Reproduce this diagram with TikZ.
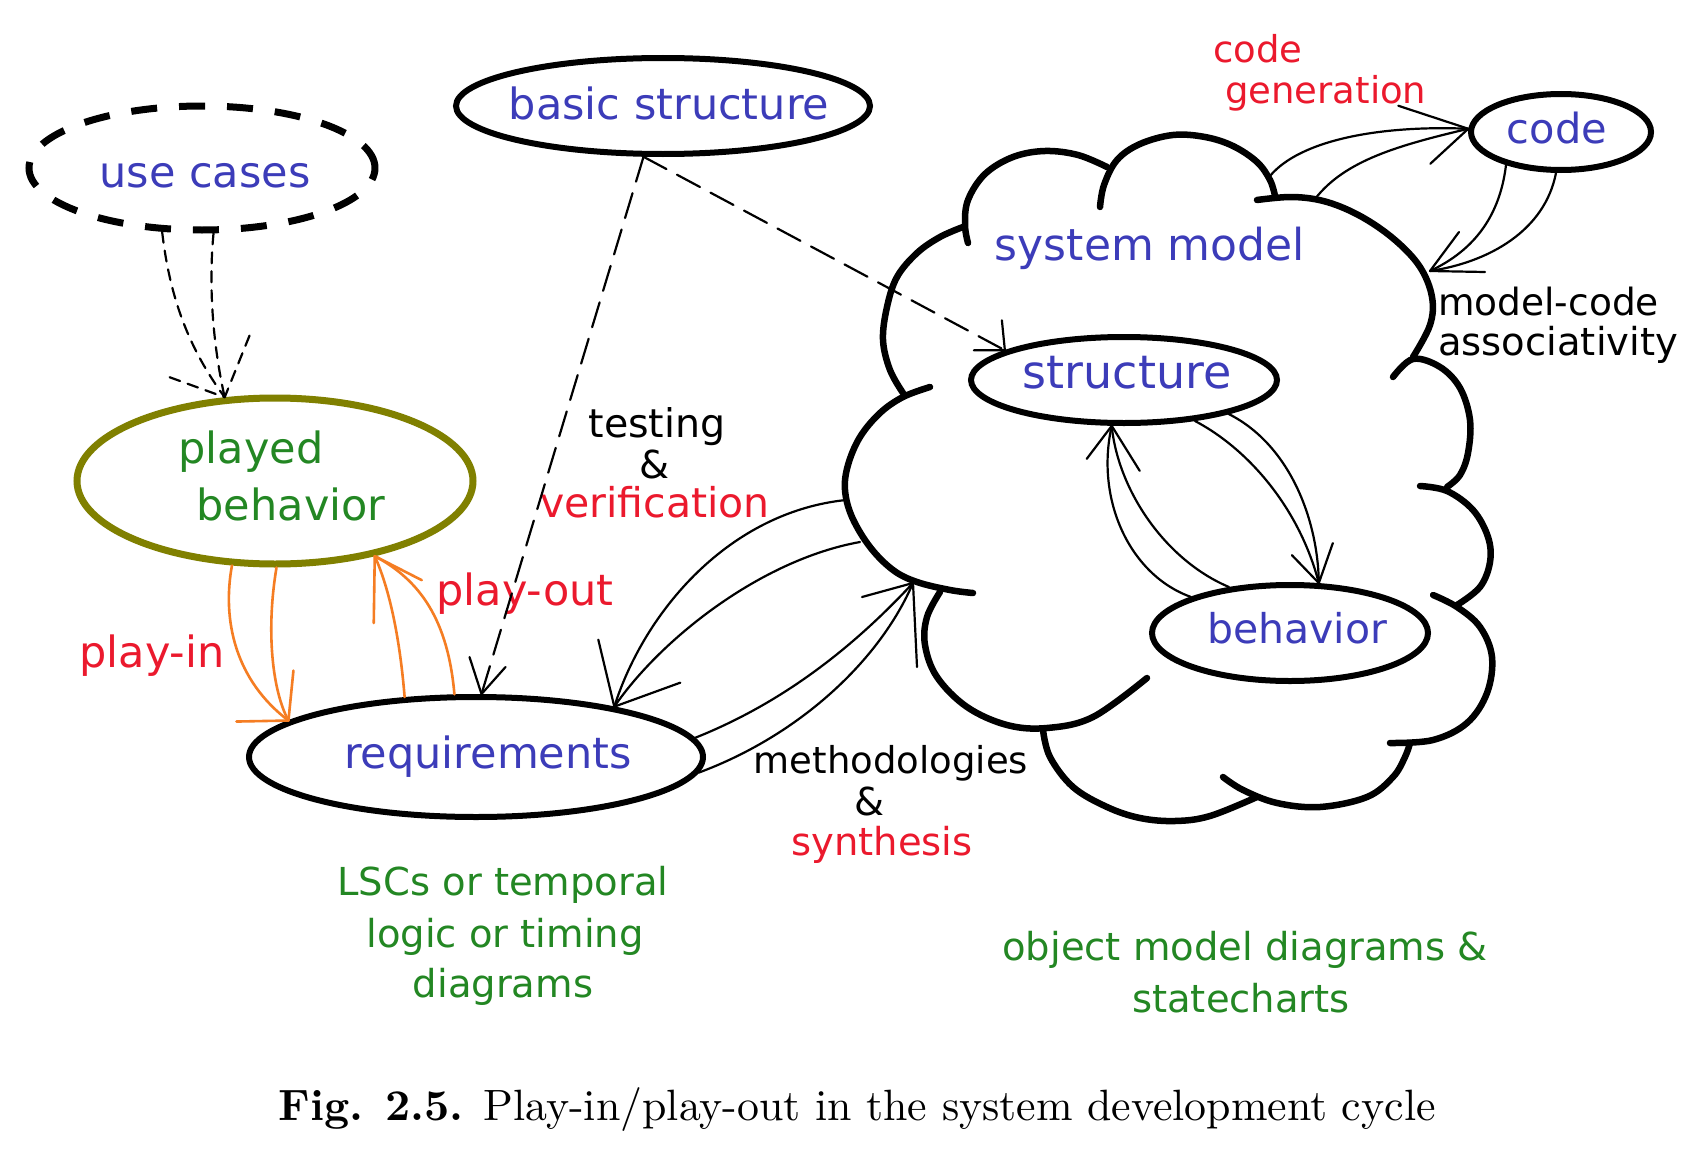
\documentclass[tikz,border=0pt]{standalone}
\usepackage{fontspec}
\usepackage{graphicx}
\usetikzlibrary{shapes.geometric}
\newfontfamily\hand{DejaVu Sans}
\definecolor{tblue}{RGB}{60,60,185}
\definecolor{tgreen}{RGB}{35,135,35}
\definecolor{tred}{RGB}{235,25,45}
\definecolor{olivec}{RGB}{128,128,0}
\definecolor{orangec}{RGB}{245,125,35}
\begin{document}
\begin{tikzpicture}[x=1pt,y=-1pt,
  ell/.style={ellipse,draw,line width=6pt,inner sep=0pt,text height=23pt,text depth=0pt,text=tblue,font=\hand\fontsize{43}{50}\selectfont},
  lbl/.style={anchor=base,inner sep=0pt,font=\hand\fontsize{43}{50}\selectfont},
  slbl/.style={anchor=base,inner sep=0pt,font=\hand\fontsize{38.5}{44}\selectfont},
  cl/.style={line width=6.5pt,line cap=round,line join=round},
  thinl/.style={line width=2.2pt,line cap=round,line join=round},
  sdash/.style={thinl,dash pattern=on 11pt off 8pt},
  ldash/.style={thinl,dash pattern=on 26pt off 12pt},
  org/.style={thinl,draw=orangec,line width=2.6pt}
]
\fill[white] (0,0) rectangle (1700,1156);
\useasboundingbox (0,0) rectangle (1700,1156);

% ---------- cloud (system model) ----------
\draw[cl] plot[smooth,tension=0.6] coordinates {(968,243) (965,225) (968,200) (985,174) (1013,157) (1045,151) (1078,155) (1107,167)};
\draw[cl] plot[smooth,tension=0.6] coordinates {(1100,207) (1104,185) (1117,160) (1140,144) (1173,135) (1205,137) (1233,146) (1257,162) (1270,180) (1275,196)};
\draw[cl] plot[smooth,tension=0.6] coordinates {(1257,200) (1293,197) (1327,202) (1362,217) (1395,240) (1420,267) (1432,297) (1430,325) (1413,357)};
\draw[cl] plot[smooth,tension=0.6] coordinates {(1393,377) (1413,359) (1440,367) (1460,388) (1470,420) (1468,453) (1460,475) (1447,487)};
\draw[cl] plot[smooth,tension=0.6] coordinates {(1420,486) (1447,491) (1473,510) (1488,537) (1490,562) (1480,587) (1457,605)};
\draw[cl] plot[smooth,tension=0.6] coordinates {(1433,595) (1457,607) (1480,627) (1492,657) (1487,693) (1467,723) (1433,740) (1390,743)};
\draw[cl] plot[smooth,tension=0.6] coordinates {(1410,743) (1405,757) (1393,777) (1367,797) (1320,807) (1277,803) (1243,790) (1223,777)};
\draw[cl] plot[smooth,tension=0.6] coordinates {(1043,730) (1050,757) (1073,787) (1107,807) (1140,818) (1175,821) (1210,816) (1257,797)};
\draw[cl] plot[smooth,tension=0.6] coordinates {(940,592) (927,617) (925,645) (937,677) (967,707) (1007,725) (1047,728) (1093,717) (1147,678)};
\draw[cl] plot[smooth,tension=0.6] coordinates {(930,387) (903,397) (880,413) (860,437) (848,465) (845,490) (852,517) (870,547) (893,570) (917,582) (950,590) (973,593)};
\draw[cl] plot[smooth,tension=0.6] coordinates {(963,227) (940,237) (917,253) (897,277) (887,307) (883,340) (890,370) (903,393)};

% ---------- ellipses ----------
\node[ell,dash pattern=on 26pt off 22pt,line width=7pt,minimum width=346pt,minimum height=124pt,text height=38pt] (uc) at (202,168) {\makebox[0pt]{\hspace*{6pt}use cases}};
\node[ell,minimum width=414pt,minimum height=96pt,text height=26pt] (bs) at (663,106) {\makebox[0pt]{\hspace*{12pt}basic structure}};
\node[ell,draw=olivec,line width=7pt,minimum width=396pt,minimum height=166pt] (pb) at (275,481) {};
\node[ell,minimum width=454pt,minimum height=120pt,text height=22pt] (req) at (476,757) {\makebox[0pt]{\hspace*{24pt}requirements}};
\node[ell,minimum width=306pt,minimum height=86pt,text height=16pt,font=\hand\fontsize{46}{50}\selectfont] (st) at (1124,380) {\makebox[0pt]{\hspace*{6pt}structure}};
\node[ell,minimum width=276pt,minimum height=96pt,text height=20pt,font=\hand\fontsize{41}{50}\selectfont] (be) at (1290,633) {\makebox[0pt]{\hspace*{14pt}behavior}};
\node[ell,minimum width=180pt,minimum height=76pt,text height=22pt,font=\hand\fontsize{41.5}{50}\selectfont] (cd) at (1561,132) {\makebox[0pt]{code\hspace*{8pt}}};

% ---------- labels ----------
\node[lbl,text=tgreen] (pb1) at (251,463) {played};
\node[lbl,text=tgreen] (pb2) at (291,520) {behavior};
\node[lbl,text=tred] (pin) at (152,667) {play-in};
\node[lbl,text=tred] (pout) at (525,605) {play-out};
\node[slbl,font=\hand\fontsize{39.5}{44}\selectfont] (tv1) at (657,437) {testing};
\node[slbl] (tv2) at (655,478) {\&};
\node[slbl,text=tred,font=\hand\fontsize{41}{44}\selectfont] (tv3) at (655,517) {verification};
\node[slbl,font=\hand\fontsize{37}{44}\selectfont] (ms1) at (891,773) {methodologies};
\node[slbl] (ms2) at (870,815) {\&};
\node[slbl,text=tred] (ms3) at (882,855) {synthesis};
\node[slbl,anchor=base west,font=\hand\fontsize{37.5}{44}\selectfont] (mc1) at (1438,315) {model-code};
\node[slbl,anchor=base west] (mc2) at (1438,355) {associativity};
\node[slbl,anchor=base west,text=tred,font=\hand\fontsize{37}{44}\selectfont] (cg1) at (1213,63) {code};
\node[slbl,anchor=base west,text=tred,font=\hand\fontsize{37}{44}\selectfont] (cg2) at (1225,103) {generation};
\node[lbl,text=tblue,font=\hand\fontsize{44}{50}\selectfont] (sm) at (1150,260) {system model};
\node[slbl,text=tgreen] (ls1) at (503,895) {LSCs or temporal};
\node[slbl,text=tgreen] (ls2) at (505,947) {logic or timing};
\node[slbl,text=tgreen] (ls3) at (503,997) {diagrams};
\node[slbl,text=tgreen] (om1) at (1245,960) {object model diagrams \&};
\node[slbl,text=tgreen] (om2) at (1241,1012) {statecharts};
\node[anchor=base,inner sep=0pt] (cap) at (857,1120) {\resizebox{1157pt}{!}{\textbf{Fig. 2.5.} Play-in/play-out in the system development cycle}};

% ---------- tips and cloud points ----------
\coordinate (ta) at (pb.121);
\coordinate (tb) at (req.85);
\coordinate (tc) at (st.166);
\coordinate (td) at (req.169);
\coordinate (te) at (pb.-37);
\coordinate (tf) at (req.20);
\coordinate (tg) at (913,583);
\coordinate (th) at (cd.178);
\coordinate (ti) at (1430,271);
\coordinate (tj) at (be.60);
\coordinate (tk) at (st.-105);
\coordinate (f1) at (846,500);
\coordinate (f2) at (860,542);
\coordinate (h1) at (1270,176);
\coordinate (h2) at (1315,199);

% use cases -> played behavior
\draw[sdash] (uc.-122) .. controls (170,300) and (190,350) .. (ta);
\draw[sdash] (uc.-80) .. controls (208,290) and (214,350) .. (ta);
\draw[sdash] (ta) ++(-55,-20) -- (ta) -- ++(25,-62);

% basic structure -> requirements / structure
\draw[ldash] (bs.-111) -- (tb);
\draw[thinl] (tb) ++(-12,-37) -- (tb) -- ++(24,-27);
\draw[ldash] (bs.-111) -- (tc);
\draw[thinl] (tc) ++(-3,-30) -- (tc) -- ++(-31,0);

% play-in
\draw[org] (pb.-117) .. controls (222,620) and (235,680) .. (td);
\draw[org] (pb.-89) .. controls (266,630) and (272,690) .. (td);
\draw[org] (td) ++(-52,1) -- (td) -- ++(5,-50);

% play-out
\draw[org] (req.140) .. controls (400,640) and (390,590) .. (te);
\draw[org] (req.109) .. controls (448,620) and (420,580) .. (te);
\draw[org] (te) ++(-1,67) -- (te) -- ++(47,24);

% testing & verification
\draw[thinl] (f1) .. controls (730,512) and (645,610) .. (tf);
\draw[thinl] (f2) .. controls (760,560) and (660,640) .. (tf);
\draw[thinl] (tf) ++(66,-24) -- (tf) -- ++(-16,-67);

% methodologies & synthesis
\draw[thinl] (req.5) .. controls (790,700) and (860,640) .. (tg);
\draw[thinl] (req.-4) .. controls (800,735) and (880,660) .. (tg);
\draw[thinl] (tg) ++(-51,14) -- (tg) -- ++(4,84);

% code generation
\draw[thinl] (h1) .. controls (1300,140) and (1380,125) .. (th);
\draw[thinl] (h2) .. controls (1345,160) and (1400,145) .. (th);
\draw[thinl] (th) ++(-38,35) -- (th) -- ++(-70,-23);

% model-code associativity
\draw[thinl] (cd.-149) .. controls (1500,215) and (1475,250) .. (ti);
\draw[thinl] (cd.-97) .. controls (1545,230) and (1490,262) .. (ti);
\draw[thinl] (ti) ++(29,-39) -- (ti) -- ++(55,1);

% structure -> behavior
\draw[thinl] (st.-30) .. controls (1250,450) and (1300,510) .. (tj);
\draw[thinl] (st.-18) .. controls (1290,445) and (1318,520) .. (tj);
\draw[thinl] (tj) ++(-27,-28) -- (tj) -- ++(14,-40);

% behavior -> structure
\draw[thinl] (be.160) .. controls (1130,575) and (1095,500) .. (tk);
\draw[thinl] (be.143) .. controls (1165,560) and (1118,490) .. (tk);
\draw[thinl] (tk) ++(-25,33) -- (tk) -- ++(28,45);
\end{tikzpicture}
\end{document}
